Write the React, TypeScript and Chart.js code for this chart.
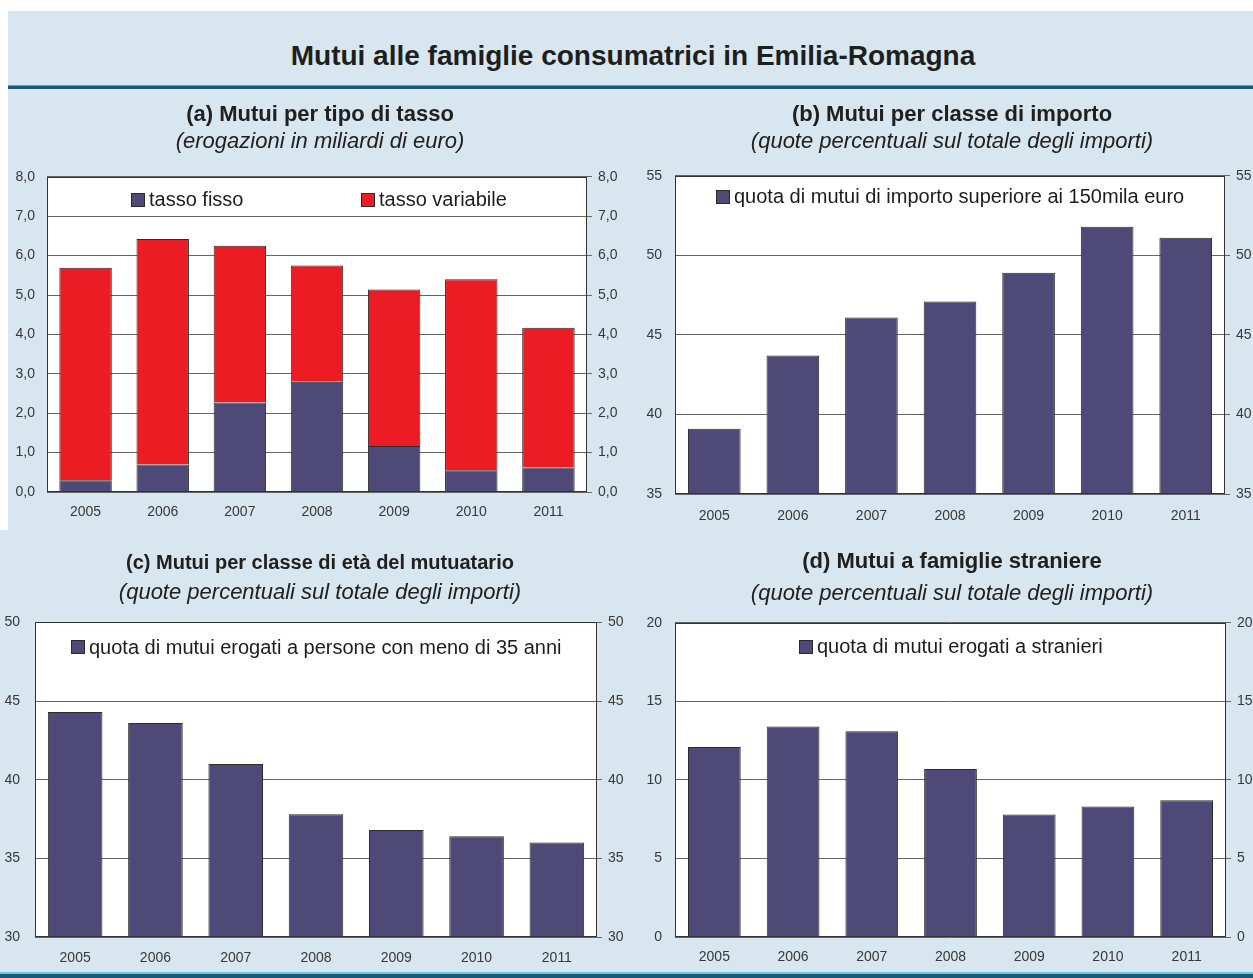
import React, { useEffect, useRef } from 'react';
import { Chart, registerables } from 'chart.js';

Chart.register(...registerables);

// ---------- data ----------
const years = ['2005', '2006', '2007', '2008', '2009', '2010', '2011'];

// (a) erogazioni in miliardi di euro
const tassoFisso = [0.3, 0.7, 2.27, 2.8, 1.17, 0.55, 0.62];
const tassoVariabile = [5.39, 5.72, 3.98, 2.95, 3.97, 4.85, 3.55];
const ticksA = [0, 1, 2, 3, 4, 5, 6, 7, 8];

// (b) quota di mutui di importo superiore ai 150mila euro
const quotaOltre150 = [39.1, 43.7, 46.1, 47.1, 48.9, 51.8, 51.1];
const ticksB = [35, 40, 45, 50, 55];

// (c) quota di mutui erogati a persone con meno di 35 anni
const quotaUnder35 = [44.3, 43.6, 41.0, 37.8, 36.8, 36.4, 36.0];
const ticksC = [30, 35, 40, 45, 50];

// (d) quota di mutui erogati a stranieri
const quotaStranieri = [12.1, 13.4, 13.1, 10.7, 7.8, 8.3, 8.7];
const ticksD = [0, 5, 10, 15, 20];

// ---------- style ----------
const FONT = '"Liberation Sans", Arial, Helvetica, sans-serif';
const BAR = '#4e4976';
const RED = '#ec1c24';
const GRID = '#666666';
const TICK = '#383838';

const panelPlugin = {
  id: 'panelBox',
  beforeDraw(chart: any) {
    const { ctx, chartArea: a } = chart;
    ctx.save();
    ctx.fillStyle = '#ffffff';
    ctx.fillRect(a.left, a.top, a.right - a.left, a.bottom - a.top);
    ctx.restore();
  },
  afterDatasetsDraw(chart: any, _args: any, opts: any) {
    const { ctx, chartArea: a } = chart;
    ctx.save();
    ctx.strokeStyle = '#333333';
    ctx.lineWidth = 1;
    ctx.strokeRect(Math.round(a.left) + 0.5, Math.round(a.top) + 0.5, Math.round(a.right - a.left) - 1, Math.round(a.bottom - a.top) - 1);

    // legend inside the plot area
    const ds = chart.data.datasets;
    ctx.font = `${opts.fontSize || 20}px ${FONT}`;
    ctx.textBaseline = 'middle';
    ctx.textAlign = 'left';
    const y = a.top + (opts.offset || 23);
    const box = 14;
    const gap = 4;
    const w = a.right - a.left;
    ds.forEach((d: any, i: number) => {
      const tw = ctx.measureText(d.label).width;
      let x0: number;
      if (opts.anchors && opts.anchors[i] != null) {
        x0 = a.left + w * opts.anchors[i];
      } else {
        x0 = a.left + w / 2 - (box + gap + tw) / 2;
      }
      x0 = Math.round(x0);
      ctx.fillStyle = d.backgroundColor;
      ctx.fillRect(x0, Math.round(y - box / 2), box, box);
      ctx.strokeStyle = '#2a2a2a';
      ctx.strokeRect(x0 + 0.5, Math.round(y - box / 2) + 0.5, box - 1, box - 1);
      ctx.fillStyle = '#1c1c1c';
      ctx.fillText(d.label, x0 + box + gap, y + 1);
    });
    ctx.restore();
  },
};

type Cfg = {
  title: string;
  subtitle: string;
  titleSize: number;
  datasets: any[];
  stacked?: boolean;
  ticks: number[];
  fmt: (v: number) => string;
  leftW: number;
  rightW: number;
  leftPad: number;
  titleTop: number;
  subTop: number;
  subBottom: number;
  xPad: number;
  legendOffset: number;
  anchors?: number[];
};

function buildConfig(c: Cfg): any {
  const tickFont = { family: FONT, size: 14 };
  const setTicks = (s: any) => {
    s.ticks = c.ticks.map((v) => ({ value: v }));
  };
  const min = c.ticks[0];
  const max = c.ticks[c.ticks.length - 1];
  return {
    type: 'bar',
    data: { labels: years, datasets: c.datasets },
    plugins: [panelPlugin],
    options: {
      responsive: false,
      maintainAspectRatio: false,
      animation: false,
      events: [],
      layout: { padding: 0 },
      plugins: {
        legend: { display: false },
        tooltip: { enabled: false },
        title: {
          display: true,
          text: c.title,
          color: '#202020',
          font: { family: FONT, size: c.titleSize, weight: 'bold', lineHeight: 1.2 },
          padding: { top: c.titleTop, bottom: 0 },
        },
        subtitle: {
          display: true,
          text: c.subtitle,
          color: '#202020',
          font: { family: FONT, size: 22, style: 'italic', lineHeight: 1.2 },
          padding: { top: c.subTop, bottom: c.subBottom },
        },
        panelBox: { offset: c.legendOffset, anchors: c.anchors, fontSize: 20 },
      },
      scales: {
        x: {
          stacked: !!c.stacked,
          grid: { display: false, drawTicks: false },
          border: { display: false },
          ticks: { font: tickFont, color: TICK, padding: c.xPad, maxRotation: 0 },
          afterFit: (s: any) => {
            s.height = 36;
          },
        },
        y: {
          position: 'left',
          stacked: !!c.stacked,
          min,
          max,
          afterBuildTicks: setTicks,
          grid: { color: GRID, lineWidth: 1, drawTicks: false },
          border: { display: false },
          ticks: { font: tickFont, color: TICK, padding: c.leftPad, callback: (v: any) => c.fmt(Number(v)) },
          afterFit: (s: any) => {
            s.width = c.leftW;
          },
        },
        y2: {
          position: 'right',
          min,
          max,
          afterBuildTicks: setTicks,
          grid: { drawOnChartArea: false, drawTicks: true, tickLength: 5, color: GRID },
          border: { display: false },
          ticks: { font: tickFont, color: TICK, padding: 6, callback: (v: any) => c.fmt(Number(v)) },
          afterFit: (s: any) => {
            s.width = c.rightW;
          },
        },
      },
    },
  };
}

const fmtComma = (v: number) => v.toFixed(1).replace('.', ',');
const fmtInt = (v: number) => String(v);

const barBase = { borderColor: '#2b2b2b', borderWidth: 1, categoryPercentage: 1, barPercentage: 0.68 };

const panels: { left: number; top: number; width: number; height: number; cfg: Cfg }[] = [
  {
    left: 0,
    top: 88,
    width: 640,
    height: 440,
    cfg: {
      title: '(a) Mutui per tipo di tasso',
      subtitle: '(erogazioni in miliardi di euro)',
      titleSize: 22,
      stacked: true,
      datasets: [
        { ...barBase, label: 'tasso fisso', data: tassoFisso, backgroundColor: BAR },
        { ...barBase, label: 'tasso variabile', data: tassoVariabile, backgroundColor: RED },
      ],
      ticks: ticksA,
      fmt: fmtComma,
      leftW: 47,
      rightW: 53,
      leftPad: 12,
      titleTop: 14,
      subTop: 0,
      subBottom: 22,
      xPad: 12,
      legendOffset: 23,
      anchors: [0.155, 0.581],
    },
  },
  {
    left: 630,
    top: 88,
    width: 644,
    height: 442,
    cfg: {
      title: '(b) Mutui per classe di importo',
      subtitle: '(quote percentuali sul totale degli importi)',
      titleSize: 22,
      datasets: [{ ...barBase, barPercentage: 0.67, label: 'quota di mutui di importo superiore ai 150mila euro', data: quotaOltre150, backgroundColor: BAR }],
      ticks: ticksB,
      fmt: fmtInt,
      leftW: 45,
      rightW: 49,
      leftPad: 13,
      titleTop: 14,
      subTop: 0,
      subBottom: 21,
      xPad: 14,
      legendOffset: 21,
    },
  },
  {
    left: 0,
    top: 533,
    width: 640,
    height: 440,
    cfg: {
      title: '(c) Mutui per classe di età del mutuatario',
      subtitle: '(quote percentuali sul totale degli importi)',
      titleSize: 20,
      datasets: [{ ...barBase, label: 'quota di mutui erogati a persone con meno di 35 anni', data: quotaUnder35, backgroundColor: BAR }],
      ticks: ticksC,
      fmt: fmtInt,
      leftW: 35,
      rightW: 43,
      leftPad: 15,
      titleTop: 18,
      subTop: 5,
      subBottom: 16,
      xPad: 13,
      legendOffset: 25,
    },
  },
  {
    left: 630,
    top: 533,
    width: 644,
    height: 440,
    cfg: {
      title: '(d) Mutui a famiglie straniere',
      subtitle: '(quote percentuali sul totale degli importi)',
      titleSize: 22,
      datasets: [{ ...barBase, barPercentage: 0.67, label: 'quota di mutui erogati a stranieri', data: quotaStranieri, backgroundColor: BAR }],
      ticks: ticksD,
      fmt: fmtInt,
      leftW: 45,
      rightW: 48,
      leftPad: 13,
      titleTop: 16,
      subTop: 5,
      subBottom: 16,
      xPad: 12,
      legendOffset: 24,
    },
  },
];

function Panel(p: { left: number; top: number; width: number; height: number; cfg: Cfg }) {
  const ref = useRef<HTMLCanvasElement | null>(null);
  useEffect(() => {
    if (!ref.current) return;
    const chart = new Chart(ref.current, buildConfig(p.cfg));
    return () => chart.destroy();
  }, []);
  return (
    <canvas
      ref={ref}
      width={p.width}
      height={p.height}
      style={{ position: 'absolute', left: p.left, top: p.top, width: p.width, height: p.height }}
    />
  );
}

export default function App() {
  return (
    <div
      style={{
        position: 'fixed',
        left: 0,
        top: 0,
        width: 1253,
        height: 978,
        overflow: 'hidden',
        background: '#d7e6ef',
        fontFamily: FONT,
      }}
    >
      {/* white margins of the scanned page */}
      <div style={{ position: 'absolute', left: 0, top: 0, width: 1253, height: 11, background: '#ffffff' }} />
      <div style={{ position: 'absolute', left: 0, top: 0, width: 8, height: 530, background: '#ffffff' }} />
      {/* main title */}
      <div
        style={{
          position: 'absolute',
          left: 0,
          top: 42,
          width: 1266,
          textAlign: 'center',
          fontSize: 28,
          lineHeight: '28px',
          fontWeight: 'bold',
          color: '#1e1e1e',
        }}
      >
        Mutui alle famiglie consumatrici in Emilia-Romagna
      </div>
      {/* rule under the title */}
      <div style={{ position: 'absolute', left: 8, top: 85, width: 1245, height: 1, background: '#5aa6c6' }} />
      <div style={{ position: 'absolute', left: 8, top: 86, width: 1245, height: 3, background: '#1c5877' }} />
      {panels.map((p, i) => (
        <Panel key={i} {...p} />
      ))}
      {/* bottom rule */}
      <div style={{ position: 'absolute', left: 0, top: 972, width: 1253, height: 2, background: '#6cc3dc' }} />
      <div style={{ position: 'absolute', left: 0, top: 974, width: 1253, height: 4, background: '#1c5877' }} />
    </div>
  );
}
